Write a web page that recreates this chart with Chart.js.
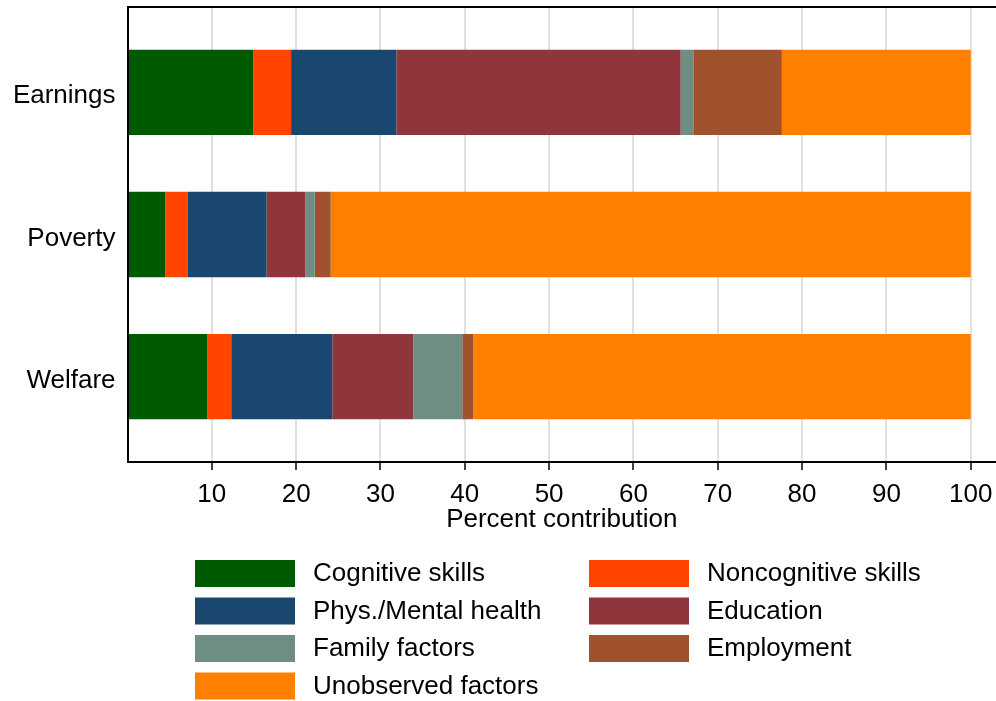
<!DOCTYPE html>
<html>
<head>
<meta charset="utf-8">
<title>Percent contribution</title>
<script src="https://cdn.jsdelivr.net/npm/chart.js@4"></script>
<style>
  html, body { margin: 0; padding: 0; background: #fff; }
  #wrap { width: 996px; height: 701px; position: relative; }
</style>
</head>
<body>
<div id="wrap"><canvas id="chart"></canvas></div>
<script>
// ---------- DATA ----------
const categories = ["Earnings", "Poverty", "Welfare"];
const xTicks = [10, 20, 30, 40, 50, 60, 70, 80, 90, 100];

const seriesNames = [
  "Cognitive skills", "Noncognitive skills",
  "Phys./Mental health", "Education",
  "Family factors", "Employment",
  "Unobserved factors"
];
const cognitive = [14.9, 4.5, 9.45];
const noncognitive = [4.5, 2.6, 2.85];
const health = [12.5, 9.4, 12.0];
const education = [33.7, 4.6, 9.6];
const family = [1.5, 1.1, 5.8];
const employment = [10.5, 1.9, 1.3];
const unobserved = [22.4, 75.9, 59.0];

const seriesValues = [cognitive, noncognitive, health, education, family, employment, unobserved];
const colors = ["#005a00", "#ff4500", "#1a476f", "#90353b", "#6e8e84", "#a0522d", "#ff7f00"];

const FONT = "'Liberation Sans', Arial, sans-serif";

// ---------- LEGEND (two columns under the plot) ----------
const legendPlugin = {
  id: "twoColLegend",
  afterDraw(chart) {
    const ctx = chart.ctx;
    const colX = [195, 589];
    ctx.save();
    ctx.font = "26px " + FONT;
    ctx.textBaseline = "middle";
    chart.data.datasets.forEach((ds, i) => {
      const x = colX[i % 2];
      const y = 560 + Math.floor(i / 2) * 37.5;
      ctx.fillStyle = ds.backgroundColor;
      ctx.fillRect(x, y, 100, 27);
      ctx.fillStyle = "#000";
      ctx.fillText(ds.label, x + 118, y + 14);
    });
    ctx.restore();
  }
};

// top frame line of the plot region
const frameTop = {
  id: "frameTop",
  afterDraw(chart) {
    const a = chart.chartArea;
    const ctx = chart.ctx;
    ctx.save();
    ctx.strokeStyle = "#000";
    ctx.lineWidth = 2;
    ctx.beginPath();
    ctx.moveTo(a.left, a.top);
    ctx.lineTo(a.right, a.top);
    ctx.stroke();
    ctx.restore();
  }
};

// no extra room for overhanging tick labels
function noPadding(scale) {
  scale.paddingTop = 0;
  scale.paddingBottom = 0;
  scale.paddingLeft = 0;
  scale.paddingRight = 0;
}

// ---------- CHART ----------
new Chart(document.getElementById("chart"), {
  type: "bar",
  data: {
    datasets: seriesNames.map((name, i) => ({
      label: name,
      data: seriesValues[i].map((v, j) => ({ x: v, y: j + 1 })),
      backgroundColor: colors[i],
      borderWidth: 0,
      barPercentage: 0.6,
      categoryPercentage: 1
    }))
  },
  options: {
    indexAxis: "y",
    responsive: true,
    maintainAspectRatio: false,
    animation: false,
    layout: { padding: { top: 7, right: 0, bottom: 166, left: 0 } },
    plugins: {
      legend: { display: false },
      tooltip: { enabled: false }
    },
    scales: {
      x: {
        type: "linear",
        stacked: true,
        min: 0,
        max: 103,
        afterBuildTicks: (scale) => { scale.ticks = xTicks.map(v => ({ value: v })); },
        afterFit: (scale) => { scale.height = 73; noPadding(scale); },
        grid: { color: "#e0e0e0", lineWidth: 2, tickColor: "#000", tickWidth: 1.5, tickLength: 8 },
        border: { color: "#000", width: 2, z: 1 },
        ticks: { color: "#000", font: { size: 26, family: FONT }, padding: 9, maxRotation: 0, autoSkip: false },
        title: { display: true, text: "Percent contribution", color: "#000", font: { size: 26, family: FONT }, padding: 0 }
      },
      y: {
        type: "linear",
        stacked: true,
        reverse: true,
        offset: false,
        min: 0.4,
        max: 3.6,
        afterBuildTicks: (scale) => { scale.ticks = categories.map((c, i) => ({ value: i + 1 })); },
        afterFit: (scale) => { scale.width = 127.5; noPadding(scale); },
        grid: { display: false, offset: false },
        border: { display: true, color: "#000", width: 2, z: 1 },
        ticks: { color: "#000", font: { size: 26, family: FONT }, padding: 4, labelOffset: 4,
                 callback: (v) => categories[v - 1] }
      }
    }
  },
  plugins: [legendPlugin, frameTop]
});
</script>
</body>
</html>
